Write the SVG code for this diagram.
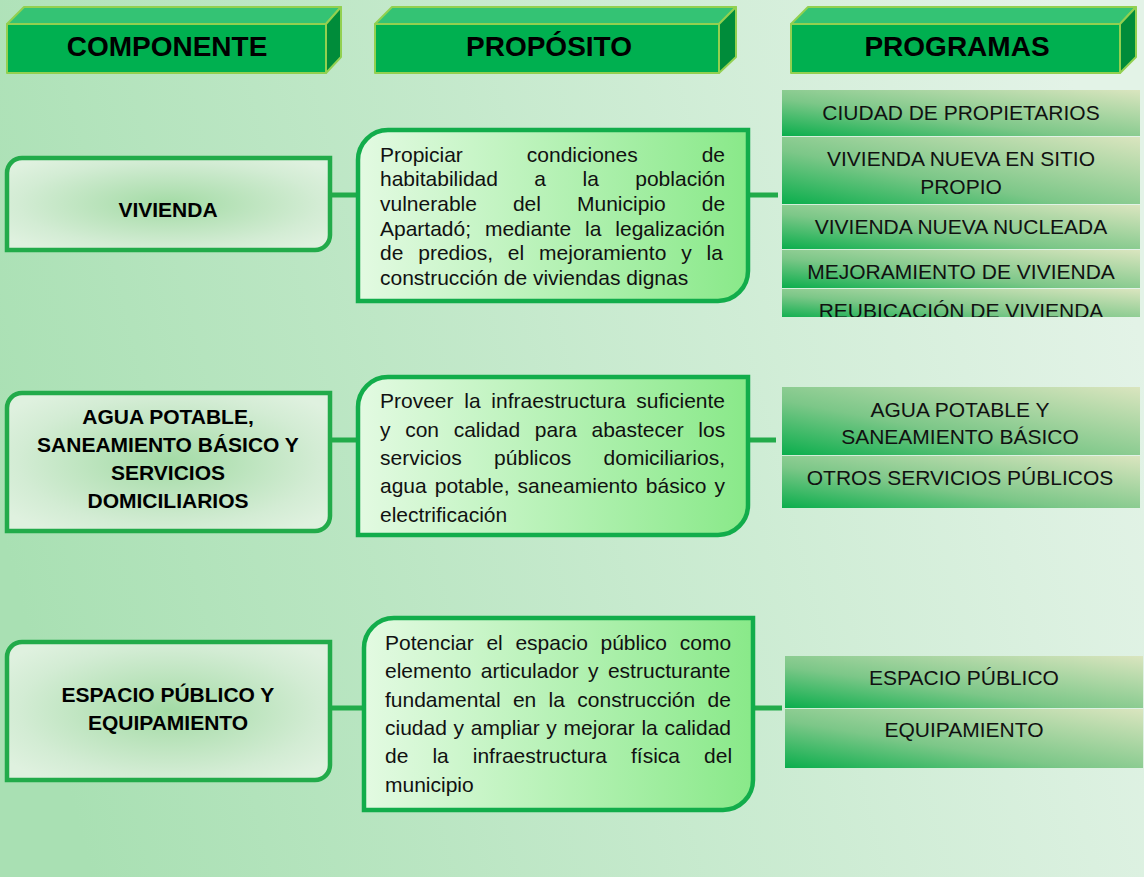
<svg xmlns="http://www.w3.org/2000/svg" width="1144" height="877" viewBox="0 0 1144 877">
<defs>
<linearGradient id="bg" x1="0" y1="0.6" x2="1" y2="0.4">
<stop offset="0" stop-color="#a9e0b3"/>
<stop offset="1" stop-color="#e3f3e7"/>
</linearGradient>
<radialGradient id="comp" cx="0.5" cy="0.5" r="0.62">
<stop offset="0" stop-color="#a3dba5"/>
<stop offset="0.75" stop-color="#d3ecd4"/>
<stop offset="1" stop-color="#dff1df"/>
</radialGradient>
<linearGradient id="purp" x1="0" y1="0" x2="1" y2="0">
<stop offset="0" stop-color="#e3fae2"/>
<stop offset="1" stop-color="#89e989"/>
</linearGradient>
<linearGradient id="prog" x1="0" y1="1" x2="1" y2="0">
<stop offset="0" stop-color="#0aae4c"/>
<stop offset="0.4" stop-color="#7cc788"/>
<stop offset="1" stop-color="#dae5bf"/>
</linearGradient>
<clipPath id="clipProg1"><rect x="782" y="90" width="358" height="227"/></clipPath>
</defs>
<style>
.hfront{fill:#00b050;stroke:#92d050;stroke-width:2;stroke-linejoin:round}
.htop{fill:#34c374;stroke:#92d050;stroke-width:2;stroke-linejoin:round}
.hside{fill:#008c3a;stroke:#92d050;stroke-width:2;stroke-linejoin:round}
.htxt{font-family:"Liberation Sans",Arial,sans-serif;font-weight:bold;font-size:28px;fill:#000;text-anchor:middle}
.cbox{fill:url(#comp);stroke:#22ab4a;stroke-width:4.5}
.ctxt{font-family:"Liberation Sans",Arial,sans-serif;font-weight:bold;font-size:21px;fill:#000;text-anchor:middle}
.pbox{fill:url(#purp);stroke:#12ad4b;stroke-width:4.5}
.ptxt{font-family:"Liberation Sans",Arial,sans-serif;font-size:21px;fill:#111}
.prow{fill:url(#prog)}
.rtxt{font-family:"Liberation Sans",Arial,sans-serif;font-size:21px;fill:#111;text-anchor:middle}
.conn{stroke:#22ab4a;stroke-width:5;fill:none}
</style>
<rect x="0" y="0" width="1144" height="877" fill="url(#bg)"/>

<g id="header-componente">
<polygon class="htop" points="7,24 24,7 341,7 326,24"/>
<polygon class="hside" points="326,24 341,7 341,57 326,73"/>
<rect class="hfront" x="7" y="24" width="319" height="49"/>
<text class="htxt" x="167" y="56">COMPONENTE</text>
</g>
<g id="header-proposito">
<polygon class="htop" points="375,24 392,7 736,7 719,24"/>
<polygon class="hside" points="719,24 736,7 736,57 719,73"/>
<rect class="hfront" x="375" y="24" width="344" height="49"/>
<text class="htxt" x="549" y="56">PROPÓSITO</text>
</g>
<g id="header-programas">
<polygon class="htop" points="791,24 808,7 1136,7 1120,24"/>
<polygon class="hside" points="1120,24 1136,7 1136,57 1120,73"/>
<rect class="hfront" x="791" y="24" width="329" height="49"/>
<text class="htxt" x="957" y="56">PROGRAMAS</text>
</g>

<g id="connectors">
<line class="conn" x1="330" y1="195" x2="360" y2="195"/>
<line class="conn" x1="746" y1="195" x2="778" y2="195"/>
<line class="conn" x1="330" y1="440" x2="360" y2="440"/>
<line class="conn" x1="746" y1="440" x2="776" y2="440"/>
<line class="conn" x1="330" y1="708" x2="366" y2="708"/>
<line class="conn" x1="751" y1="708" x2="782" y2="708"/>
</g>

<g id="comp-vivienda">
<path class="cbox" d="M22,158 H330 V235 A15,15 0 0 1 315,250 H7 V173 A15,15 0 0 1 22,158 Z"/>
<text class="ctxt" x="168" y="217">VIVIENDA</text>
</g>
<g id="comp-agua">
<path class="cbox" d="M22,393 H330 V516 A15,15 0 0 1 315,531 H7 V408 A15,15 0 0 1 22,393 Z"/>
<text class="ctxt"><tspan x="168" y="424">AGUA POTABLE,</tspan><tspan x="168" y="452">SANEAMIENTO BÁSICO Y</tspan><tspan x="168" y="480">SERVICIOS</tspan><tspan x="168" y="508">DOMICILIARIOS</tspan></text>
</g>
<g id="comp-espacio">
<path class="cbox" d="M22,642 H330 V765 A15,15 0 0 1 315,780 H7 V657 A15,15 0 0 1 22,642 Z"/>
<text class="ctxt"><tspan x="168" y="702">ESPACIO PÚBLICO Y</tspan><tspan x="168" y="730">EQUIPAMIENTO</tspan></text>
</g>

<g id="prop-vivienda">
<path class="pbox" d="M388,130 H748 V271 A30,30 0 0 1 718,301 H358 V160 A30,30 0 0 1 388,130 Z"/>
<text class="ptxt">
<tspan x="380" y="162" word-spacing="58.1">Propiciar condiciones de</tspan>
<tspan x="380" y="186" word-spacing="30.6">habitabilidad a la población</tspan>
<tspan x="380" y="211" word-spacing="30.2">vulnerable del Municipio de</tspan>
<tspan x="380" y="236" word-spacing="8">Apartadó; mediante la legalización</tspan>
<tspan x="380" y="260" word-spacing="9.06">de predios, el mejoramiento y la</tspan>
<tspan x="380" y="285">construcción de viviendas dignas</tspan>
</text>
</g>
<g id="prop-agua">
<path class="pbox" d="M388,377 H748 V505 A30,30 0 0 1 718,535 H358 V407 A30,30 0 0 1 388,377 Z"/>
<text class="ptxt">
<tspan x="380" y="408" word-spacing="4.9">Proveer la infraestructura suficiente</tspan>
<tspan x="380" y="437" word-spacing="8.8">y con calidad para abastecer los</tspan>
<tspan x="380" y="465" word-spacing="26.6">servicios públicos domiciliarios,</tspan>
<tspan x="380" y="493" word-spacing="2.2">agua potable, saneamiento básico y</tspan>
<tspan x="380" y="522">electrificación</tspan>
</text>
</g>
<g id="prop-espacio">
<path class="pbox" d="M394,618 H753 V780 A30,30 0 0 1 723,810 H364 V648 A30,30 0 0 1 394,618 Z"/>
<text class="ptxt">
<tspan x="385" y="650" word-spacing="6.85">Potenciar el espacio público como</tspan>
<tspan x="385" y="678" word-spacing="3.5">elemento articulador y estructurante</tspan>
<tspan x="385" y="707" word-spacing="6.5">fundamental en la construcción de</tspan>
<tspan x="385" y="735" word-spacing="0.87">ciudad y ampliar y mejorar la calidad</tspan>
<tspan x="385" y="763" word-spacing="18.2">de la infraestructura física del</tspan>
<tspan x="385" y="792">municipio</tspan>
</text>
</g>

<g id="prog-vivienda" clip-path="url(#clipProg1)">
<rect class="prow" x="782" y="90" width="358" height="46"/>
<text class="rtxt" x="961" y="120">CIUDAD DE PROPIETARIOS</text>
<rect class="prow" x="782" y="137" width="358" height="67"/>
<text class="rtxt"><tspan x="961" y="166">VIVIENDA NUEVA EN SITIO</tspan><tspan x="961" y="194">PROPIO</tspan></text>
<rect class="prow" x="782" y="205" width="358" height="44"/>
<text class="rtxt" x="961" y="234">VIVIENDA NUEVA NUCLEADA</text>
<rect class="prow" x="782" y="250" width="358" height="38"/>
<text class="rtxt" x="961" y="279">MEJORAMIENTO DE VIVIENDA</text>
<rect class="prow" x="782" y="289" width="358" height="30"/>
<text class="rtxt" x="961" y="318">REUBICACIÓN DE VIVIENDA</text>
</g>
<g id="prog-agua">
<rect class="prow" x="782" y="387" width="358" height="68"/>
<text class="rtxt"><tspan x="960" y="417">AGUA POTABLE Y</tspan><tspan x="960" y="444">SANEAMIENTO BÁSICO</tspan></text>
<rect class="prow" x="782" y="456" width="358" height="52"/>
<text class="rtxt" x="960" y="485">OTROS SERVICIOS PÚBLICOS</text>
</g>
<g id="prog-espacio">
<rect class="prow" x="785" y="656" width="358" height="52"/>
<text class="rtxt" x="964" y="685">ESPACIO PÚBLICO</text>
<rect class="prow" x="785" y="709" width="358" height="59"/>
<text class="rtxt" x="964" y="737">EQUIPAMIENTO</text>
</g>
</svg>
